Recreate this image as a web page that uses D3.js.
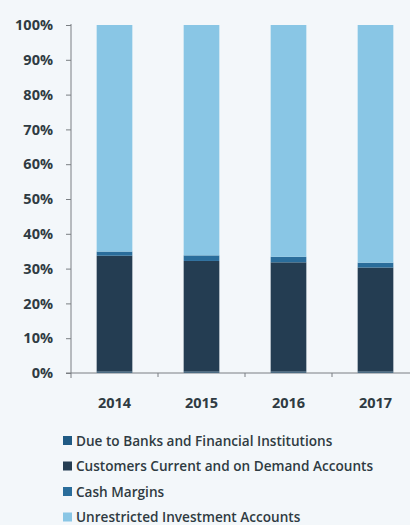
<!DOCTYPE html>
<html>
<head>
<meta charset="utf-8">
<script src="https://cdn.jsdelivr.net/npm/d3@7"></script>
<style>
  body { margin: 0; background: #f3f7fa; }
  svg { display: block; }
</style>
</head>
<body>
<div id="chart"></div>
<script>
var vWidth = 410;
var vHeight = 525;

// data (percent of total)
var years = ["2014", "2015", "2016", "2017"];
var seriesNames = ["Due to Banks and Financial Institutions",
                   "Customers Current and on Demand Accounts",
                   "Cash Margins",
                   "Unrestricted Investment Accounts"];
var dueToBanks = [0.4, 0.4, 0.4, 0.4];
var customers = [33.3, 31.8, 31.4, 29.9];
var cashMargins = [1.2, 1.6, 1.6, 1.4];
var unrestricted = [65.1, 66.2, 66.6, 68.3];
var colors = ["#1f5a84", "#243d52", "#2a6d9b", "#89c6e5"];
var yTicks = [0, 10, 20, 30, 40, 50, 60, 70, 80, 90, 100];

var rows = years.map(function (y, i) {
    return { year: y, s0: dueToBanks[i], s1: customers[i], s2: cashMargins[i], s3: unrestricted[i] };
});

var svg = d3.select("#chart")
    .append("svg")
    .attr("width", vWidth)
    .attr("height", vHeight);

var x = d3.scaleBand().domain(years).range([71, 419]).paddingInner(0.59).paddingOuter(0.295);
var y = d3.scaleLinear().domain([0, 100]).range([373, 25]);

var stack = d3.stack().keys(["s0", "s1", "s2", "s3"]);
var layers = stack(rows);

// bars
svg.selectAll("g.layer")
    .data(layers)
    .enter().append("g")
    .attr("class", "layer")
    .attr("fill", function (d, i) { return colors[i]; })
    .selectAll("rect")
    .data(function (d) { return d; })
    .enter().append("rect")
    .attr("x", function (d) { return x(d.data.year); })
    .attr("width", x.bandwidth())
    .attr("y", function (d) { return y(d[1]); })
    .attr("height", function (d) { return y(d[0]) - y(d[1]); });

// y axis
var yAxis = d3.axisLeft(y)
    .tickValues(yTicks)
    .tickFormat(function (d) { return d + "%"; })
    .tickSize(5)
    .tickPadding(13);

var gy = svg.append("g")
    .attr("transform", "translate(71,0)")
    .call(yAxis);
gy.select(".domain").attr("stroke", "#7a7f83").attr("d", "M0,24V378");
gy.selectAll(".tick line").attr("stroke", "#7a7f83");
gy.selectAll("text")
    .attr("fill", "#2f3b42")
    .attr("font-family", "Open Sans")
    .attr("font-weight", 700)
    .attr("font-size", "14.5px");

// x axis
var gx = svg.append("g")
    .attr("transform", "translate(0,373)");
gx.append("line")
    .attr("x1", 66).attr("x2", 410)
    .attr("stroke", "#7a7f83");
gx.selectAll("line.sep")
    .data(years.slice(1))
    .enter().append("line")
    .attr("class", "sep")
    .attr("x1", function (d) { return x(d) - x.step() * x.paddingInner() / 2; })
    .attr("x2", function (d) { return x(d) - x.step() * x.paddingInner() / 2; })
    .attr("y1", 0).attr("y2", 4)
    .attr("stroke", "#7a7f83");
gx.selectAll("text")
    .data(years)
    .enter().append("text")
    .attr("x", function (d) { return x(d) + x.bandwidth() / 2; })
    .attr("y", 35)
    .attr("text-anchor", "middle")
    .attr("fill", "#2f3b42")
    .attr("font-family", "Open Sans")
    .attr("font-weight", 700)
    .attr("font-size", "14.5px")
    .text(function (d) { return d; });

// legend
var legend = svg.append("g")
    .attr("transform", "translate(63,441)");
var item = legend.selectAll("g")
    .data(seriesNames)
    .enter().append("g")
    .attr("transform", function (d, i) { return "translate(0," + (i * 25.5) + ")"; });
item.append("rect")
    .attr("x", 0).attr("y", -5)
    .attr("width", 9).attr("height", 9)
    .attr("fill", function (d, i) { return colors[i]; });
item.append("text")
    .attr("x", 13)
    .attr("y", 0)
    .attr("dy", "0.35em")
    .attr("fill", "#2f3b42")
    .attr("font-family", "Open Sans")
    .attr("font-weight", 600)
    .attr("font-size", "13.6px")
    .text(function (d) { return d; });
</script>
</body>
</html>
